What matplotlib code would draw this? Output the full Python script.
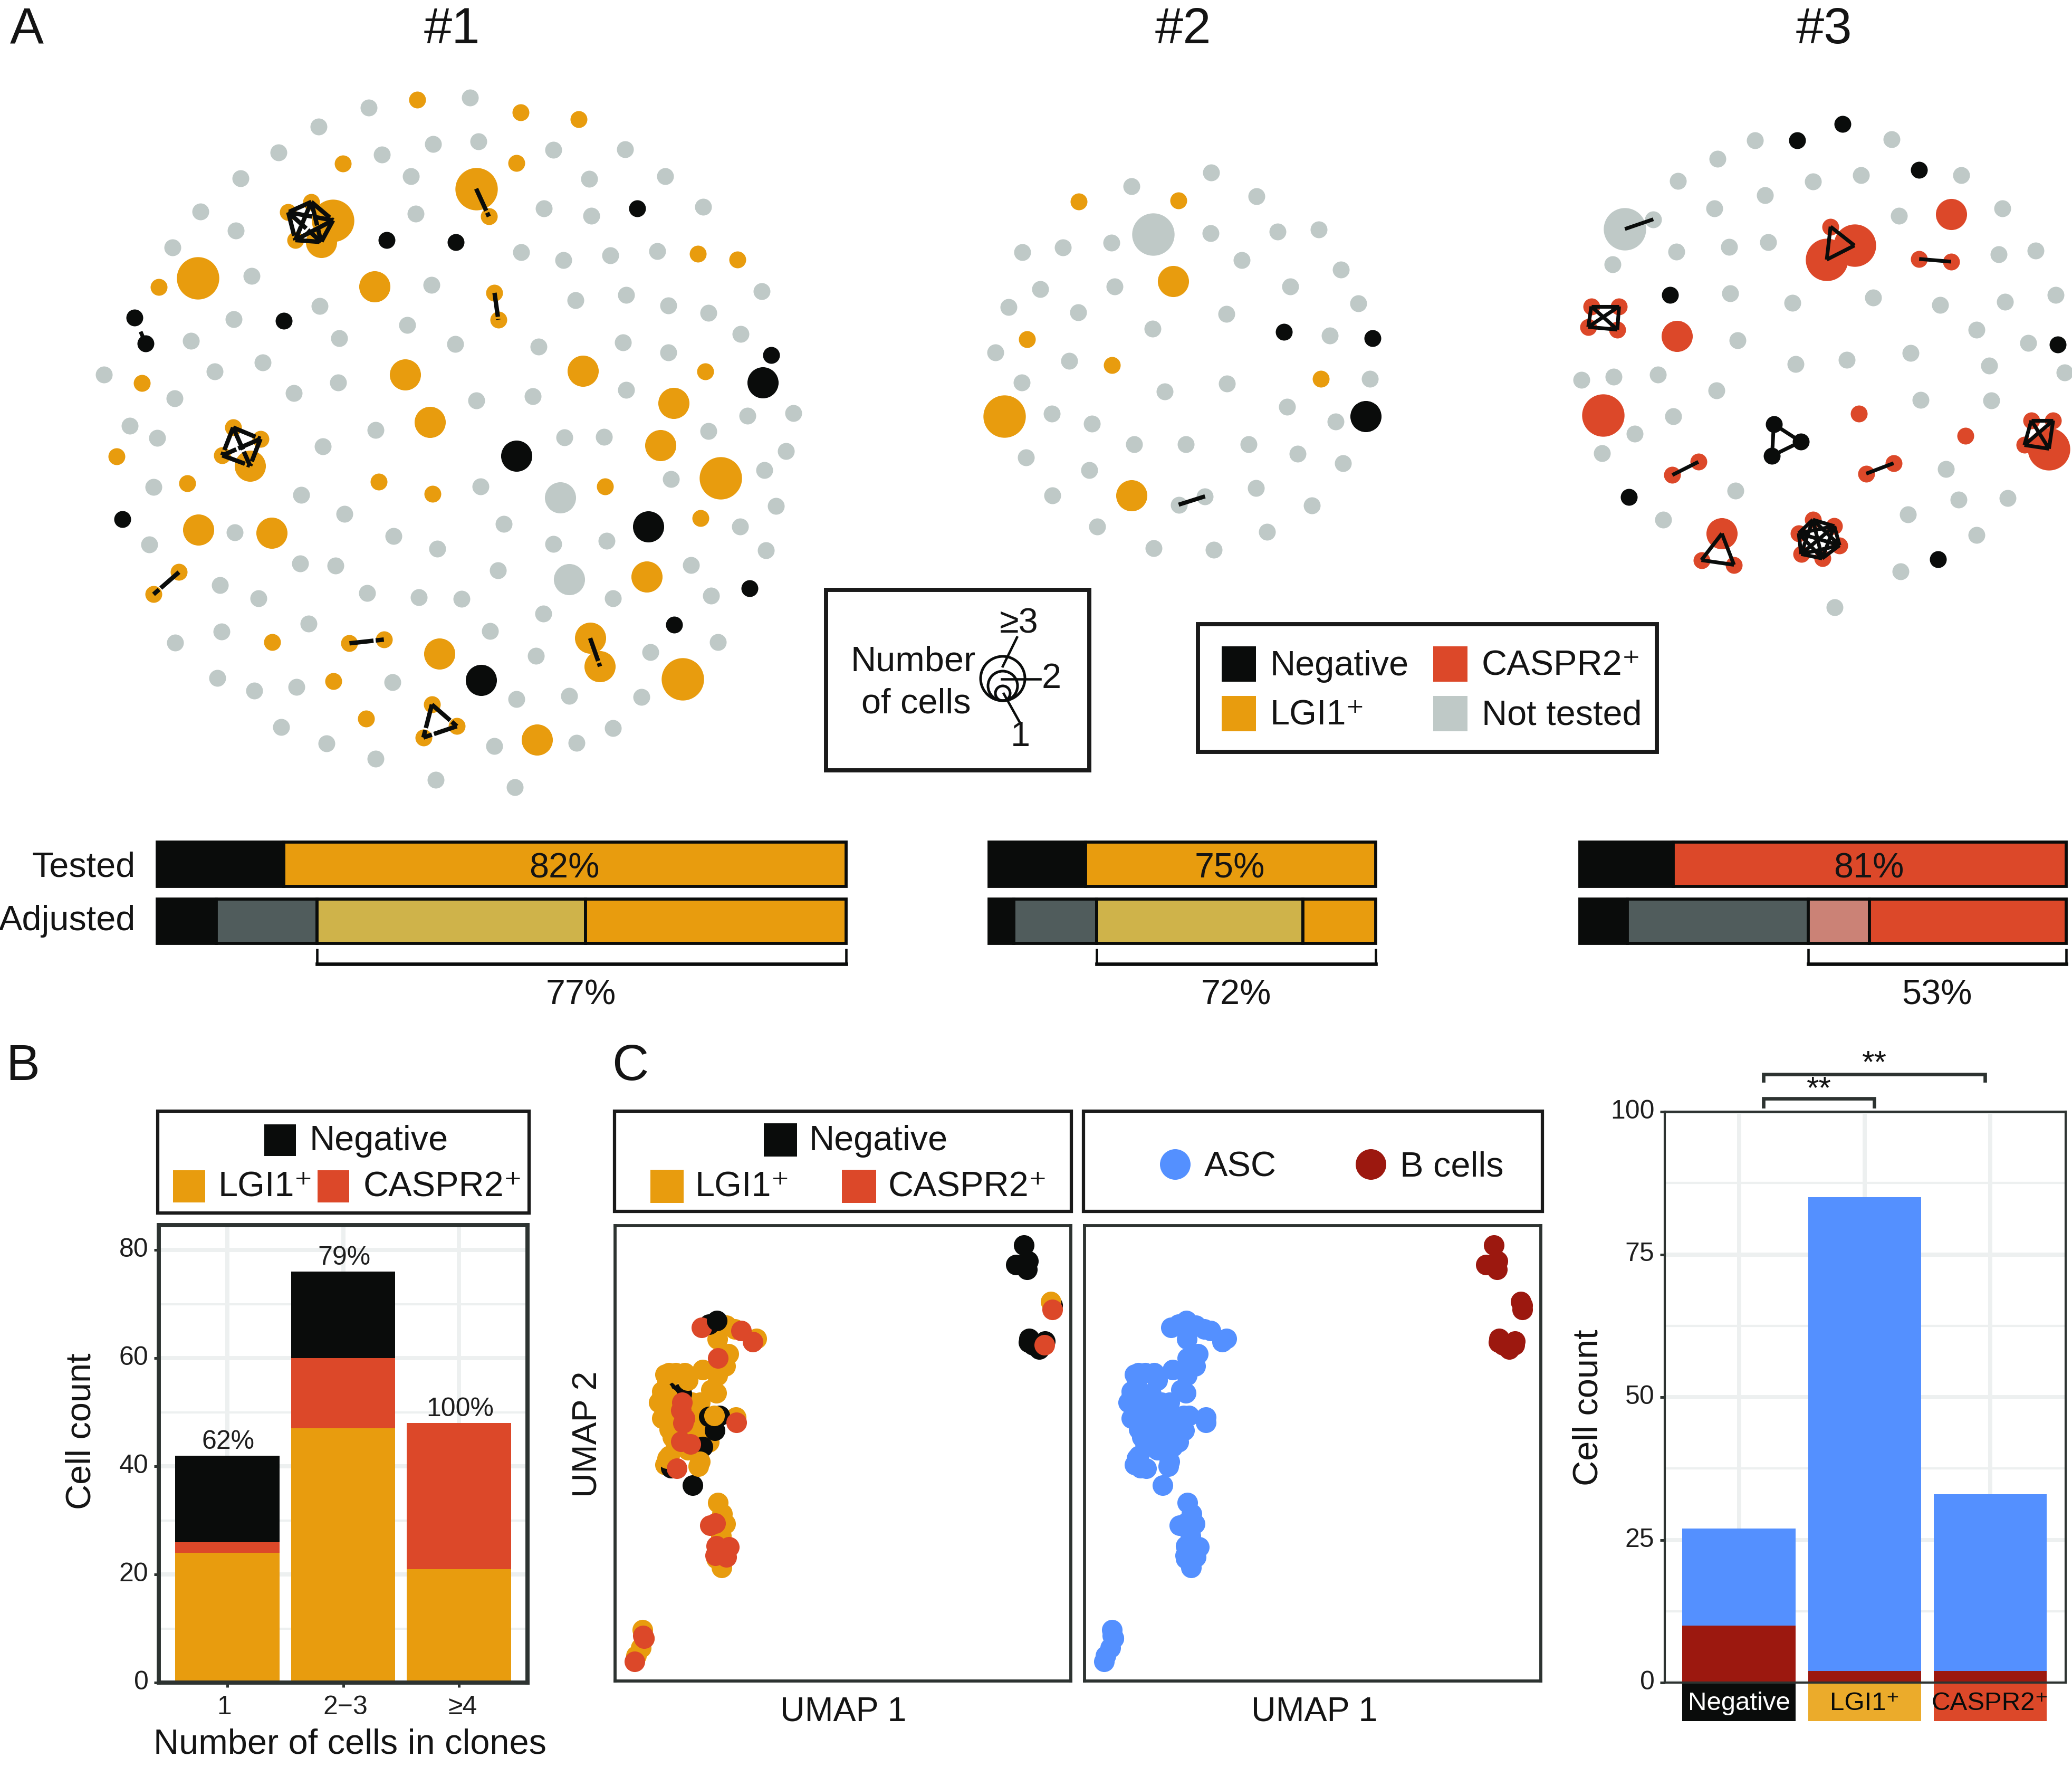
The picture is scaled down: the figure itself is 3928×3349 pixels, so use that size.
#!/usr/bin/env python3
"""Clonal networks, antigen reactivity bars and UMAP panels."""

from itertools import combinations

import matplotlib
matplotlib.use('Agg')
import matplotlib.pyplot as plt
from matplotlib.patches import Rectangle, Circle

plt.rcParams['font.family'] = ['Liberation Sans', 'DejaVu Sans']
plt.rcParams['ytick.alignment'] = 'center'

W, H = 3929, 3349

BLACK = '#0A0C0B'
ORANGE = '#E89C0E'
RED = '#DC4829'
GRAY = '#BFC9C7'
DARKGRAY = '#505C5C'
TAN = '#CFB34A'
PINK = '#CB8276'
BLUE = '#5490FF'
DARKRED = '#9C180F'
FRAME = '#2D3331'
GRID = '#EDF0F0'

# --- network #1 (layout units)
net1_gray_small = [(615, 83), (830, 62), (509, 123), (423, 178), (751, 160), (848, 155), (643, 182), (343, 233),
                   (705, 228), (1007, 172), (1159, 171), (1083, 234), (1244, 228), (258, 303), (333, 344), (715, 308),
                   (987, 297), (1087, 312), (1325, 293), (198, 380), (939, 390), (1028, 407), (1128, 396), (1228, 387),
                   (366, 440), (748, 459), (1449, 473), (511, 504), (1054, 492), (1162, 480), (1251, 503), (1336, 518),
                   (328, 532), (552, 572), (697, 544), (1405, 563), (237, 578), (799, 585), (976, 590), (1155, 581),
                   (1251, 602), (390, 624), (288, 643), (53, 650), (550, 666), (456, 689), (203, 700), (963, 695),
                   (843, 704), (1161, 682), (1419, 737), (1517, 731), (108, 758), (630, 767), (1336, 769), (166, 784),
                   (1030, 783), (1114, 782), (517, 802), (1501, 812), (1455, 852), (158, 888), (852, 887), (1257, 871),
                   (471, 905), (563, 945), (1479, 929), (902, 966), (330, 984), (1403, 972), (668, 992), (149, 1010),
                   (1007, 1009), (1120, 1002), (760, 1019), (1458, 1023), (469, 1051), (544, 1055), (1299, 1054),
                   (889, 1065), (299, 1097), (612, 1113), (381, 1125), (721, 1122), (812, 1126), (1134, 1125),
                   (1342, 1119), (986, 1157), (487, 1178), (872, 1194), (302, 1195), (204, 1218), (1356, 1217),
                   (1213, 1239), (970, 1247), (294, 1294), (372, 1321), (461, 1313), (665, 1303), (929, 1338),
                   (1040, 1332), (1194, 1334), (429, 1398), (525, 1433), (1056, 1431), (1133, 1400), (881, 1438),
                   (630, 1465), (757, 1510), (925, 1525)]
net1_gray_medium = [(1022, 911), (1040, 1084)]
net1_gray_large = []
net1_color_small = [(718, 66), (938, 93), (1061, 108), (560, 202), (929, 200), (1314, 393), (1398, 405), (169, 464),
                    (882, 476), (890, 533), (1330, 643), (133, 667), (79, 823), (636, 877), (750, 903), (230, 880),
                    (1117, 887), (1319, 954), (410, 1217), (540, 1300), (609, 1380), (212, 1069), (158, 1116),
                    (574, 1220), (647, 1212), (870, 314), (749, 1350), (802, 1396), (731, 1420), (327, 762),
                    (385, 786), (304, 821), (493, 283), (444, 305), (459, 364)]
net1_color_medium = [(627, 462), (692, 650), (745, 750), (1070, 642), (1262, 710), (1234, 800), (253, 979), (409, 986),
                     (1205, 1079), (765, 1242), (972, 1425), (1085, 1209), (1106, 1269), (363, 843), (514, 368)]
net1_color_large = [(843, 255), (252, 445), (1362, 869), (1281, 1296), (539, 322)]
net1_black_small = [(1185, 297), (653, 364), (800, 369), (118, 529), (141, 583), (435, 535), (1470, 608), (92, 956),
                    (1423, 1103), (1263, 1180)]
net1_black_medium = [(1451, 666), (929, 822), (1208, 972), (854, 1298)]
net1_clones = [[(493, 283), (444, 305), (539, 322), (459, 364), (514, 368)],
               [(327, 762), (385, 786), (304, 821), (363, 843)],
               [(749, 1350), (802, 1396), (731, 1420)],
               [(843, 255), (870, 314)], [(882, 476), (890, 533)], [(212, 1069), (158, 1116)],
               [(574, 1220), (647, 1212)], [(1085, 1209), (1106, 1269)]]
net1_faint_clones = [[(118, 529), (141, 583)], [(1470, 608), (1451, 666)]]

# --- network #2
net2_gray_small = [(601, 143), (865, 92), (1014, 180), (240, 389), (374, 371), (534, 352), (863, 318), (1083, 312),
                   (1219, 304), (965, 418), (1293, 453), (299, 525), (546, 515), (1126, 516), (196, 592), (1351, 579),
                   (425, 612), (914, 618), (671, 672), (1257, 697), (152, 760), (395, 791), (1389, 859), (238, 872),
                   (916, 877), (710, 905), (1115, 963), (338, 988), (471, 1025), (1276, 1018), (610, 1102), (781, 1102),
                   (988, 1101), (1149, 1137), (252, 1151), (1299, 1173), (462, 1198), (1012, 1264), (339, 1291),
                   (1197, 1329), (757, 1326), (844, 1295), (487, 1408), (1048, 1426), (675, 1487), (873, 1494)]
net2_gray_medium = []
net2_gray_large = [(672, 322)]
net2_color_small = [(427, 199), (756, 196), (256, 711), (537, 807), (1227, 859)]
net2_color_medium = [(738, 496), (601, 1292)]
net2_color_large = [(182, 998)]
net2_black_small = [(1104, 684), (1398, 708)]
net2_black_medium = [(1374, 997)]
net2_clones = [[(757, 1326), (844, 1295)]]

# --- network #3
net3_gray_small = [(650, 104), (1045, 100), (543, 158), (428, 224), (818, 226), (957, 207), (1246, 207), (680, 267),
                   (533, 305), (1066, 328), (1366, 305), (357, 338), (688, 406), (576, 421), (424, 435), (1355, 442),
                   (1461, 431), (239, 472), (579, 558), (759, 586), (992, 570), (1185, 592), (1373, 584), (1520, 563),
                   (601, 698), (1290, 666), (1440, 706), (768, 768), (916, 755), (1100, 736), (1328, 773), (1545, 793),
                   (149, 815), (242, 806), (370, 800), (540, 847), (1129, 875), (1334, 877), (415, 923), (303, 976),
                   (208, 1033), (1202, 1081), (595, 1145), (1239, 1172), (1380, 1166), (1092, 1215), (386, 1231),
                   (1291, 1276), (1071, 1384), (881, 1491)]
net3_gray_medium = []
net3_gray_large = [(275, 367)]
net3_color_small = [(869, 360), (1125, 456), (1217, 464), (178, 597), (258, 597), (169, 658), (253, 666), (951, 915),
                    (1258, 981), (1449, 936), (1512, 936), (1429, 1009), (487, 1059), (412, 1098), (1051, 1063),
                    (972, 1094), (496, 1351), (590, 1365), (818, 1231), (880, 1250), (777, 1271), (895, 1307),
                    (784, 1333), (845, 1346)]
net3_color_medium = [(1218, 323), (425, 685), (555, 1272)]
net3_color_large = [(938, 416), (858, 458), (212, 921), (1500, 1020)]
net3_black_small = [(773, 104), (904, 55), (1124, 191), (405, 563), (1525, 711), (287, 1164), (1180, 1349),
                    (705, 947), (783, 999), (700, 1041)]
net3_black_medium = []
net3_clones = [[(275, 367), (357, 338)], [(869, 360), (938, 416), (858, 458)], [(1125, 456), (1217, 464)],
               [(178, 597), (258, 597), (169, 658), (253, 666)], [(1449, 936), (1512, 936), (1429, 1009), (1500, 1020)],
               [(705, 947), (783, 999), (700, 1041)], [(412, 1098), (487, 1059)], [(972, 1094), (1051, 1063)],
               [(555, 1272), (496, 1351), (590, 1365)],
               [(818, 1231), (880, 1250), (777, 1271), (895, 1307), (784, 1333), (845, 1346)]]

# --- tested / adjusted bars (percent of bar)
tested_1 = [18.4, 81.6]
tested_2 = [25.0, 75.0]
tested_3 = [19.2, 80.8]
adjusted_1 = [8.6, 14.6, 39.0, 37.8]
adjusted_2 = [6.4, 21.4, 53.4, 18.8]
adjusted_3 = [9.8, 37.2, 12.5, 40.5]
tested_labels = ['82%', '75%', '81%']
adjusted_labels = ['77%', '72%', '53%']

# --- panel B
clone_sizes = ['1', '2−3', '≥4']
clone_lgi = [24, 47, 21]
clone_caspr = [2, 13, 27]
clone_negative = [16, 16, 0]
clone_pct = ['62%', '79%', '100%']

# --- panel C UMAP points
umap_lgi_asc = [(150, 1305), (145, 1360), (130, 1385), (155, 1330), (428, 348), (455, 360), (398, 392), (528, 390),
                (435, 437), (425, 475), (398, 505), (350, 488), (290, 497), (260, 497), (238, 498),
                (232, 525), (378, 550), (395, 560), (215, 570), (218, 598), (235, 625), (250, 600),
                (340, 590), (315, 590), (240, 675), (300, 670), (330, 660), (460, 637), (370, 715),
                (400, 905), (413, 940), (424, 972), (410, 1010), (395, 1080),
                (270, 640), (300, 700), (250, 650), (330, 700), (205, 590), (245, 560), (270, 600), (250, 700),
                (290, 600), (320, 620), (300, 740), (260, 720), (215, 640), (330, 730), (270, 670), (225, 785)]
umap_lgi_top = [(388, 632), (225, 503), (300, 520), (235, 575), (215, 555), (340, 775), (336, 790), (240, 757),
                (232, 765), (412, 1108)]
umap_lgi_b = [(1500, 273)]
umap_neg_asc = [(370, 345), (280, 562), (230, 555), (370, 635), (405, 632), (389, 678), (350, 730), (245, 795),
                (317, 851), (410, 1085)]
umap_neg_top = [(396, 333)]
umap_neg_b = [(1411, 96), (1424, 146), (1385, 157), (1421, 173), (1428, 390), (1480, 398), (1462, 423), (1427, 402),
              (1440, 410), (1505, 285)]
umap_caspr_asc = [(345, 355), (476, 364), (515, 400), (400, 451), (282, 590), (278, 615), (290, 640), (285, 655),
                  (278, 713), (309, 721), (461, 653), (264, 797), (373, 977), (392, 970), (395, 1040), (437, 1044),
                  (392, 1070), (428, 1075), (155, 1330), (152, 1322), (125, 1403)]
umap_caspr_b = [(1505, 298), (1479, 409)]

# --- panel C stacked bars
target_names = ['Negative', 'LGI1⁺', 'CASPR2⁺']
bcell_counts = [10, 2, 2]
asc_counts = [17, 83, 31]


def px_axes(x0, y0, x1, y1):
    """Axes placed by figure pixels, y counted from the top."""
    return fig.add_axes([x0 / W, 1 - y1 / H, (x1 - x0) / W, (y1 - y0) / H])


def scatter_points(ax, pts, color, size):
    if pts:
        ax.scatter([p[0] for p in pts], [p[1] for p in pts], s=size, color=color, linewidths=0, clip_on=False)


def draw_edges(ax, clones, lw, dashes):
    for clone in clones:
        for p, q in combinations(clone, 2):
            ax.plot([p[0], q[0]], [p[1], q[1]], color=BLACK, lw=lw, solid_capstyle='butt',
                    linestyle=(0, dashes) if dashes else '-', dash_capstyle='butt')


def draw_network(crop, color, gray_s, gray_m, gray_l, col_s, col_m, col_l, blk_s, blk_m, clones, lw, dashes):
    x, y, w, h = crop
    ax = px_axes(x, y, x + w, y + h)
    ax.set_xlim(0, 1568)
    ax.set_ylim(1568, 0)
    ax.axis('off')
    for pts, c, size in [(gray_l, GRAY, 372), (gray_m, GRAY, 201), (gray_s, GRAY, 59),
                         (col_l, color, 372), (col_m, color, 201), (col_s, color, 59),
                         (blk_m, BLACK, 201), (blk_s, BLACK, 59)]:
        scatter_points(ax, pts, c, size)
    draw_edges(ax, clones, lw, dashes)
    return ax


def draw_bar(ax, values, colors):
    left = 0
    for v, c in zip(values, colors):
        ax.barh(0.5, v, left=left, height=1, color=c, edgecolor=BLACK, linewidth=1.4, clip_on=False)
        left += v
    ax.set_xlim(0, 100)
    ax.set_ylim(0, 1)
    ax.axis('off')


def draw_bracket(ax, start):
    ax.plot([start, 100], [-0.47, -0.47], color=BLACK, lw=1.6, clip_on=False, solid_capstyle='projecting')
    for x in (start, 100):
        ax.plot([x, x], [-0.12, -0.47], color=BLACK, lw=1.1, clip_on=False, solid_capstyle='butt')


def style_count_axes(ax, frame_lw):
    ax.set_axisbelow(True)
    ax.grid(which='major', color=GRID, lw=1.9)
    ax.grid(which='minor', axis='y', color=GRID, lw=1.0)
    for s in ax.spines.values():
        s.set_color(FRAME)
        s.set_linewidth(frame_lw)
    ax.tick_params(which='major', length=2.2, width=1.2, color=FRAME, labelsize=12, labelcolor='#1E1E1E', pad=2.5)
    ax.tick_params(which='minor', length=0)


def box(x0, y0, x1, y1, lw=1.6, edge='#1A1A1A'):
    page.add_patch(Rectangle((x0, y0), x1 - x0, y1 - y0, fill=False, edgecolor=edge, linewidth=lw, joinstyle='miter'))


def swatch(x0, y0, x1, y1, color):
    page.add_patch(Rectangle((x0, y0), x1 - x0, y1 - y0, facecolor=color, edgecolor='none'))


def label(x, y, s, size=16, ha='left', va='center', **kw):
    page.text(x, y, s, fontsize=size, ha=ha, va=va, color=kw.pop('color', '#141414'), **kw)


fig = plt.figure(figsize=(W / 300, H / 300), dpi=300)

# panel A networks
ax_net1 = draw_network((150, 130, 1400, 1400), ORANGE, net1_gray_small, net1_gray_medium, net1_gray_large,
                       net1_color_small, net1_color_medium, net1_color_large, net1_black_small, net1_black_medium,
                       net1_clones, 2.0, (5.5, 0.5))
draw_edges(ax_net1, net1_faint_clones, 1.8, (1.6, 2.2))
draw_network((1800, 280, 900, 800), ORANGE, net2_gray_small, net2_gray_medium, net2_gray_large, net2_color_small,
             net2_color_medium, net2_color_large, net2_black_small, net2_black_medium, net2_clones, 1.9, None)
draw_network((2900, 200, 1029, 1000), RED, net3_gray_small, net3_gray_medium, net3_gray_large, net3_color_small,
             net3_color_medium, net3_color_large, net3_black_small, net3_black_medium, net3_clones, 1.7, None)

# panel A bars
bar_spans = [(295, 1607), (1872, 2611), (2992, 3920)]
tested = [tested_1, tested_2, tested_3]
adjusted = [adjusted_1, adjusted_2, adjusted_3]
main_colors = [ORANGE, ORANGE, RED]
mid_colors = [TAN, TAN, PINK]
for (x0, x1), t, a, mc, tc in zip(bar_spans, tested, adjusted, main_colors, mid_colors):
    ax = px_axes(x0 + 3, 1596, x1 - 3, 1680)
    draw_bar(ax, t, [BLACK, mc])
    ax = px_axes(x0 + 3, 1704, x1 - 3, 1788)
    draw_bar(ax, a, [BLACK, DARKGRAY, tc, mc])
    draw_bracket(ax, a[0] + a[1])

# panel B
ax_b = px_axes(301, 2322, 1000, 3189)
ax_b.set_ylim(0, 84.6)
ax_b.set_xlim(0.41, 3.59)
ax_b.set_yticks([0, 20, 40, 60, 80])
ax_b.set_yticks([10, 30, 50, 70], minor=True)
ax_b.set_xticks([1, 2, 3])
ax_b.set_xticklabels([])
style_count_axes(ax_b, 1.9)
bottom = [0, 0, 0]
for vals, c in [(clone_lgi, ORANGE), (clone_caspr, RED), (clone_negative, BLACK)]:
    ax_b.bar([1, 2, 3], vals, width=0.9, bottom=bottom, color=c, linewidth=0)
    bottom = [b + v for b, v in zip(bottom, vals)]
for x, top, s in zip([1, 2, 3], bottom, clone_pct):
    ax_b.text(x + 0.01, top + 0.3, s, ha='center', va='bottom', fontsize=12, color='#1E1E1E')

# panel C UMAPs
for x0, x1, kind in [(1166, 2030, 'antigen'), (2056, 2921, 'cell')]:
    ax = px_axes(x0, 2323, x1, 3186)
    ax.set_xlim(60, 1566)
    ax.set_ylim(1465, 35)
    ax.set_xticks([])
    ax.set_yticks([])
    for s in ax.spines.values():
        s.set_color(FRAME)
        s.set_linewidth(1.4)
    if kind == 'antigen':
        for pts, c in [(umap_lgi_asc, ORANGE), (umap_neg_asc + umap_neg_b, BLACK), (umap_lgi_top + umap_lgi_b, ORANGE),
                       (umap_caspr_asc + umap_caspr_b, RED), (umap_neg_top, BLACK)]:
            scatter_points(ax, pts, c, 88)
    else:
        scatter_points(ax, umap_lgi_asc + umap_lgi_top + umap_neg_asc + umap_neg_top + umap_caspr_asc, BLUE, 88)
        scatter_points(ax, umap_lgi_b + umap_neg_b + umap_caspr_b, DARKRED, 88)

# panel C bars
ax_c = px_axes(3156, 2107, 3916, 3189)
ax_c.set_ylim(0, 100)
ax_c.set_xlim(0.41, 3.6)
ax_c.set_yticks([0, 25, 50, 75, 100])
ax_c.set_yticks([12.5, 37.5, 62.5, 87.5], minor=True)
ax_c.set_xticks([1, 2, 3])
ax_c.set_xticklabels([])
style_count_axes(ax_c, 1.0)
ax_c.tick_params(axis='x', length=0)
ax_c.bar([1, 2, 3], bcell_counts, width=0.9, color=DARKRED, linewidth=0)
ax_c.bar([1, 2, 3], asc_counts, width=0.9, bottom=bcell_counts, color=BLUE, linewidth=0)

ax_strip = px_axes(3156, 3191, 3916, 3262)
ax_strip.set_xlim(0.41, 3.6)
ax_strip.set_ylim(0, 1)
ax_strip.axis('off')
ax_strip.bar([1, 2, 3], [1, 1, 1], width=0.9, color=[BLACK, '#EBAB2B', RED], linewidth=0)
for x, name, c in zip([1, 2, 3], target_names, ['white', BLACK, BLACK]):
    ax_strip.text(x, 0.47, name, ha='center', va='center', fontsize=11.8, color=c)

# overlay for text, legends and brackets
page = fig.add_axes([0, 0, 1, 1], zorder=10)
page.set_xlim(0, W)
page.set_ylim(H, 0)
page.axis('off')

label(19, 57, 'A', 23)
label(11, 2022, 'B', 23)
label(1160, 2022, 'C', 23)
label(857, 57, '#1', 23, ha='center')
label(2243, 57, '#2', 23, ha='center')
label(3458, 57, '#3', 23, ha='center')

label(257, 1662, 'Tested', ha='right', va='baseline')
label(257, 1763, 'Adjusted', ha='right', va='baseline')
for x, s in zip([1070, 2331, 3543], tested_labels):
    label(x, 1663, s, ha='center', va='baseline')
for x, s in zip([1101, 2343, 3672], adjusted_labels):
    label(x, 1903, s, ha='center', va='baseline')

# number of cells key
box(1566, 1118, 2065, 1460, lw=1.9)
label(1731, 1271, 'Number', ha='center', va='baseline')
label(1737, 1351, 'of cells', ha='center', va='baseline')
for r in (42, 28, 14):
    page.add_patch(Circle((1901, 1328 - r), r, fill=False, edgecolor=BLACK, linewidth=1.2))
page.plot([1928, 1901], [1208, 1263], color=BLACK, lw=1.1)
page.plot([1899, 1972], [1287, 1287], color=BLACK, lw=1.1)
page.plot([1903, 1932], [1315, 1367], color=BLACK, lw=1.1)
label(1932, 1182, '≥3', ha='center')
label(1993, 1287, '2', ha='center')
label(1934, 1397, '1', ha='center')

# colour key
box(2271, 1183, 3141, 1425, lw=1.9)
swatch(2316, 1225, 2381, 1292, BLACK)
swatch(2316, 1319, 2381, 1386, ORANGE)
swatch(2717, 1225, 2782, 1292, RED)
swatch(2717, 1319, 2782, 1386, GRAY)
label(2408, 1263, 'Negative')
label(2408, 1356, 'LGI1⁺')
label(2809, 1263, 'CASPR2⁺')
label(2809, 1356, 'Not tested')

# panel B text and legend
label(155, 2713, 'Cell count', ha='center', rotation=90)
label(663, 3307, 'Number of cells in clones', ha='center')
for x, s in zip([425, 655, 877], clone_sizes):
    label(x, 3236, s, 12, ha='center', color='#1E1E1E')
box(299, 2106, 1003, 2299, lw=1.5)
swatch(501, 2131, 561, 2191, BLACK)
swatch(328, 2218, 389, 2279, ORANGE)
swatch(602, 2218, 662, 2279, RED)
label(587, 2163, 'Negative')
label(414, 2250, 'LGI1⁺')
label(689, 2250, 'CASPR2⁺')

# panel C text and legends
label(1599, 3245, 'UMAP 1', 15.5, ha='center')
label(2492, 3245, 'UMAP 1', 15.5, ha='center')
label(1115, 2718, 'UMAP 2', 15.5, ha='center', rotation=90)
box(1165, 2106, 2031, 2296, lw=1.5)
swatch(1448, 2129, 1511, 2192, BLACK)
swatch(1233, 2217, 1296, 2280, ORANGE)
swatch(1596, 2217, 1661, 2280, RED)
label(1534, 2163, 'Negative')
label(1318, 2250, 'LGI1⁺')
label(1684, 2250, 'CASPR2⁺')
box(2054, 2106, 2924, 2296, lw=1.5)
page.add_patch(Circle((2228, 2207), 29, facecolor=BLUE, edgecolor='none'))
page.add_patch(Circle((2599, 2207), 29, facecolor=DARKRED, edgecolor='none'))
label(2283, 2212, 'ASC')
label(2654, 2212, 'B cells')

label(3012, 2668, 'Cell count', ha='center', rotation=90)
page.plot([3343, 3343, 3553, 3553], [2097, 2082, 2082, 2097], color=FRAME, lw=1.6, solid_joinstyle='miter')
page.plot([3343, 3343, 3763, 3763], [2048, 2036, 2036, 2048], color=FRAME, lw=1.6, solid_joinstyle='miter')
label(3448, 2066, '**', 14.5, ha='center')
label(3553, 2017, '**', 14.5, ha='center')

fig.savefig('out.png', dpi=300)
